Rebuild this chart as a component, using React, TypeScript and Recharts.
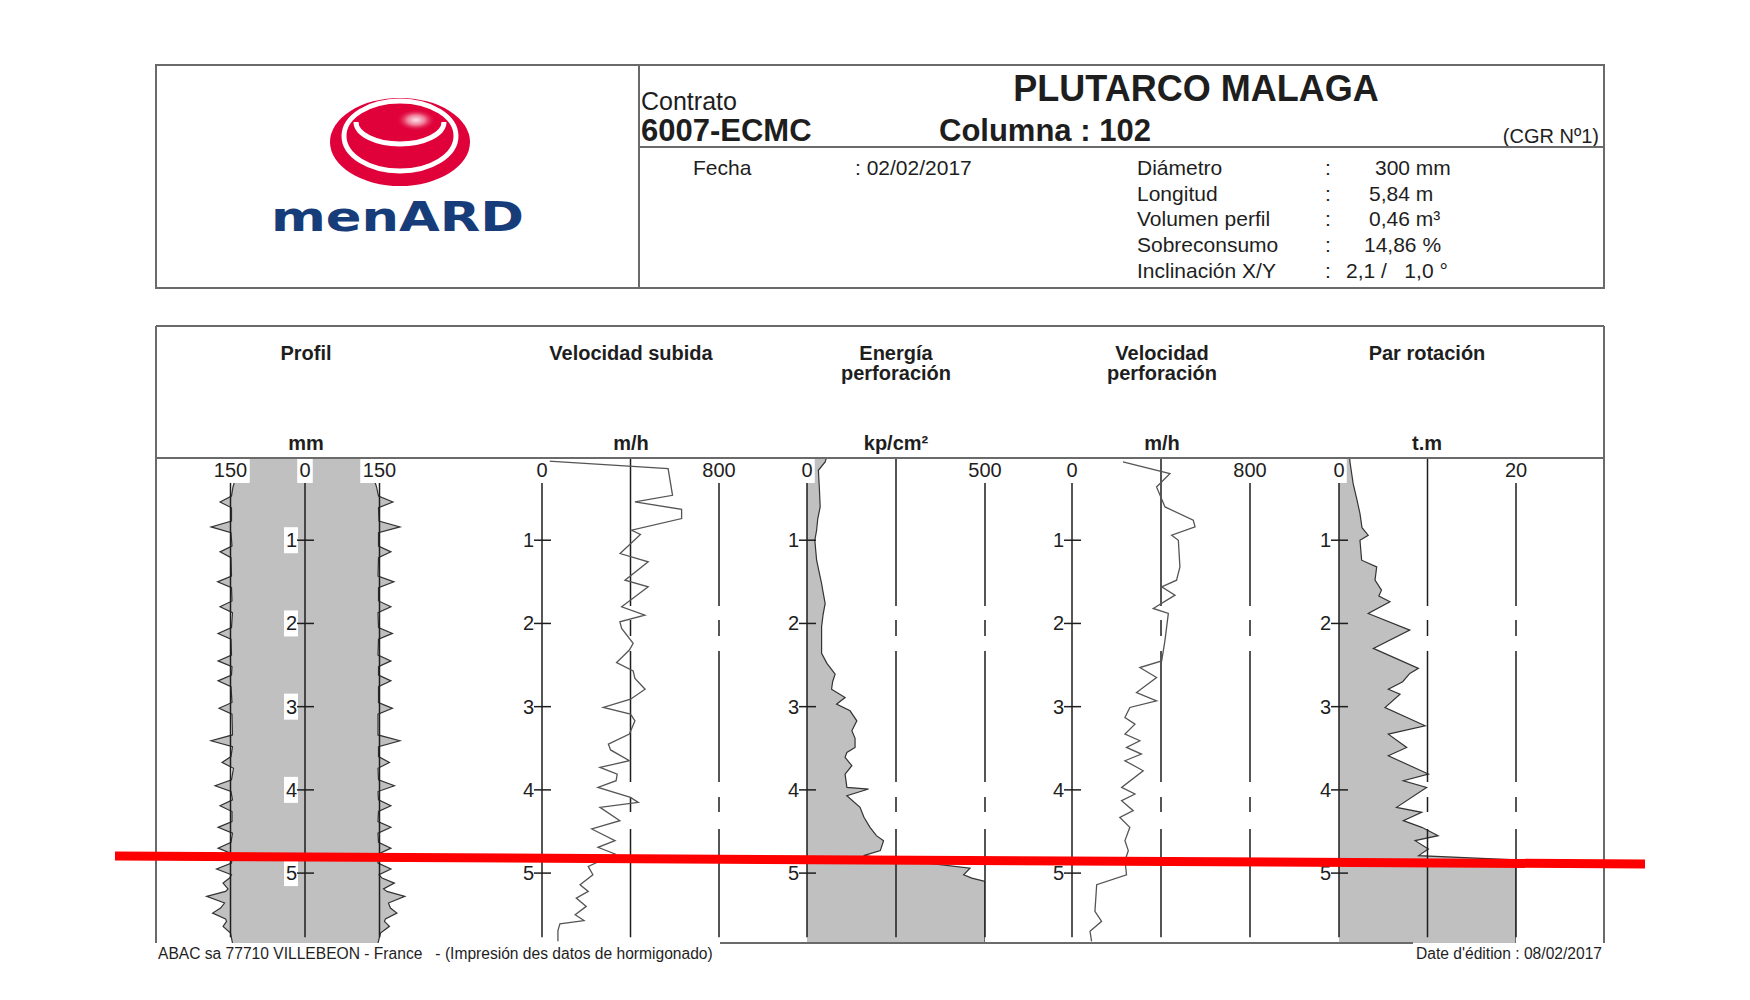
import React from "react";
import { ComposedChart, Area, Line, XAxis, YAxis, ReferenceLine } from "recharts";

const FONT = "'Liberation Sans', Arial, Helvetica, sans-serif";

// depth (m) shared by every track
const depthTicks = [1, 2, 3, 4, 5];
const DEPTH_MAX = 5.84;

// Profil: radius (mm) left / right
const profDepth = [0, 0.2, 0.36, 0.47, 0.54, 0.61, 0.77, 0.84, 0.91, 1.07, 1.14, 1.21, 1.43, 1.5, 1.57, 1.73, 1.8, 1.87, 2.05, 2.12, 2.19, 2.38, 2.45, 2.52, 2.62, 2.69, 2.76, 2.95, 3.02, 3.09, 3.34, 3.41, 3.48, 3.6, 3.67, 3.74, 3.88, 3.95, 4.02, 4.12, 4.19, 4.26, 4.38, 4.45, 4.52, 4.63, 4.7, 4.77, 4.88, 4.95, 5.02, 5.06, 5.12, 5.19, 5.22, 5.28, 5.36, 5.42, 5.48, 5.55, 5.58, 5.64, 5.72, 5.84];
const profLeft = [135, 137, 145, 148, 171, 148, 148, 189, 149, 147, 171, 149, 148, 176, 148, 147, 171, 146, 148, 175, 149, 148, 175, 147, 148, 175, 149, 147, 173, 147, 146, 189, 146, 149, 167, 144, 148, 181, 149, 146, 171, 147, 147, 175, 146, 149, 175, 146, 148, 178, 148, 152, 165, 155, 160, 198, 162, 170, 186, 160, 158, 165, 150, 146];
const profRight = [133, 136, 144, 148, 177, 148, 149, 191, 148, 148, 173, 148, 147, 179, 148, 148, 173, 147, 148, 176, 148, 147, 173, 148, 148, 173, 148, 148, 176, 147, 147, 191, 148, 148, 170, 147, 148, 180, 147, 148, 173, 148, 147, 173, 147, 148, 173, 148, 147, 173, 149, 155, 180, 158, 165, 201, 168, 172, 185, 162, 160, 170, 152, 147];

// Velocidad subida (m/h)
const subDepth = [0.05, 0.14, 0.46, 0.54, 0.63, 0.74, 0.88, 0.93, 1.16, 1.26, 1.48, 1.56, 1.8, 1.9, 1.98, 2.06, 2.24, 2.32, 2.47, 2.57, 2.66, 2.79, 2.91, 3.01, 3.09, 3.17, 3.33, 3.45, 3.52, 3.65, 3.73, 3.81, 3.89, 3.97, 4.09, 4.15, 4.21, 4.37, 4.47, 4.61, 4.69, 4.77, 4.92, 5.02, 5.14, 5.22, 5.3, 5.4, 5.5, 5.57, 5.61, 5.69, 5.82];
const subVel = [30, 570, 590, 420, 631, 631, 405, 445, 353, 480, 375, 480, 360, 465, 352, 360, 412, 395, 337, 412, 420, 466, 400, 277, 400, 420, 395, 300, 310, 395, 262, 340, 335, 253, 400, 435, 262, 352, 225, 330, 253, 330, 209, 230, 172, 209, 155, 200, 150, 190, 81, 72, 72];

// Energia perforacion (kp/cm2)
const enDepth = [0, 0.06, 0.16, 0.4, 0.6, 0.75, 0.88, 1.0, 1.24, 1.4, 1.52, 1.62, 1.76, 1.9, 2.04, 2.36, 2.48, 2.61, 2.7, 2.79, 2.89, 2.97, 3.05, 3.17, 3.29, 3.38, 3.49, 3.55, 3.61, 3.71, 3.81, 3.97, 3.99, 4.07, 4.21, 4.33, 4.45, 4.55, 4.61, 4.73, 4.79, 4.94, 5.02, 5.06, 5.1, 5.84];
const enPres = [55, 51, 32, 35, 37, 30, 27, 22, 27, 35, 41, 45, 51, 45, 41, 41, 56, 79, 72, 69, 107, 83, 121, 140, 126, 135, 135, 112, 107, 126, 107, 112, 173, 112, 149, 160, 177, 195, 215, 206, 159, 458, 440, 463, 500, 500];

// Velocidad perforacion (m/h)
const perfDepth = [0.06, 0.2, 0.36, 0.6, 0.76, 0.84, 0.94, 1.0, 1.32, 1.48, 1.56, 1.66, 1.82, 1.88, 2.2, 2.45, 2.53, 2.65, 2.83, 2.93, 3.01, 3.13, 3.21, 3.33, 3.41, 3.49, 3.57, 3.65, 3.77, 3.97, 4.05, 4.13, 4.25, 4.33, 4.45, 4.61, 4.73, 4.85, 5.02, 5.14, 5.46, 5.58, 5.7, 5.82];
const perfVel = [229, 440, 380, 418, 545, 553, 448, 478, 485, 470, 403, 463, 365, 433, 418, 403, 305, 380, 290, 380, 260, 238, 283, 238, 305, 245, 312, 238, 320, 223, 283, 223, 275, 215, 260, 238, 253, 238, 245, 111, 103, 133, 81, 88];

// Par rotacion (t.m)
const parDepth = [0, 0.06, 0.32, 0.5, 0.68, 0.85, 0.94, 1.0, 1.24, 1.32, 1.48, 1.6, 1.67, 1.74, 1.88, 2.08, 2.3, 2.54, 2.6, 2.7, 2.79, 2.85, 3.01, 3.23, 3.33, 3.49, 3.59, 3.81, 3.89, 3.97, 4.21, 4.27, 4.37, 4.45, 4.55, 4.61, 4.71, 4.79, 4.84, 5.84];
const parTorque = [1.2, 1.24, 1.6, 2.0, 2.37, 2.6, 3.3, 2.37, 2.56, 4.26, 4.07, 4.8, 4.5, 5.76, 3.3, 8.0, 3.88, 8.97, 8.0, 7.2, 5.57, 6.9, 5.2, 9.73, 5.57, 7.65, 5.57, 10.1, 7.27, 9.9, 6.5, 9.35, 7.27, 9.35, 11.2, 8.6, 10.1, 9.0, 20, 20];

const infoRows = [
  { label: "Diámetro", value: "300 mm", vx: 1375 },
  { label: "Longitud", value: "5,84 m", vx: 1369 },
  { label: "Volumen perfil", value: "0,46 m³", vx: 1369 },
  { label: "Sobreconsumo", value: "14,86 %", vx: 1364 },
  { label: "Inclinación X/Y", value: "2,1 /   1,0 °", vx: 1346 },
];

const profData = profDepth.map((d, i) => ({ d, l: -profLeft[i], r: profRight[i] }));
const subData = subDepth.map((d, i) => ({ d, v: subVel[i] }));
const enData = enDepth.map((d, i) => ({ d, v: enPres[i] }));
const perfData = perfDepth.map((d, i) => ({ d, v: perfVel[i] }));
const parData = parDepth.map((d, i) => ({ d, v: parTorque[i] }));

const TOP = 457;
const PLOT_H = 486;
const LINE_END = 5.77;
const DASH = "149 14 16 15 131 15 15 17 400";
const GREY = "#c0c0c0";
const INK = "#1e1e1e";

function ValueTick(props: any) {
  const { x, y, payload } = props;
  const label = String(Math.abs(payload.value));
  const w = label.length * 11.5 + 4;
  return (
    <g>
      <rect x={x - w / 2} y={y + 1} width={w} height={25} fill="#fff" />
      <text x={x} y={y + 20} textAnchor="middle" fontSize={20} fontFamily={FONT} fill={INK}>
        {label}
      </text>
    </g>
  );
}

const depthTick = (shift: number) => (props: any) => {
  const { x, y, payload } = props;
  const ax = x + shift;
  return (
    <g>
      <rect x={ax - 21} y={y - 13} width={14} height={26} fill="#fff" />
      <line x1={ax - 8} x2={ax + 9} y1={y} y2={y} stroke={INK} strokeWidth={1.5} />
      <text x={ax - 8} y={y + 7} textAnchor="end" fontSize={20} fontFamily={FONT} fill={INK}>
        {payload.value}
      </text>
    </g>
  );
};

// axes are 1px thick; the chart is shifted by that pixel so the plot lands on TOP / plotLeft
function frame(domain: [number, number], ticks: number[], shift: number, solid: number[], dashed: number[]) {
  return [
    ...solid.map((v) => (
      <ReferenceLine key={"s" + v} segment={[{ x: v, y: 0 }, { x: v, y: LINE_END }]} stroke={INK} strokeWidth={1.5} />
    )),
    ...dashed.map((v) => (
      <ReferenceLine
        key={"g" + v}
        segment={[{ x: v, y: 0 }, { x: v, y: LINE_END }]}
        stroke={INK}
        strokeWidth={1.5}
        strokeDasharray={DASH}
      />
    )),
    <XAxis
      key="x"
      type="number"
      orientation="top"
      domain={domain}
      ticks={ticks}
      interval={0}
      height={1}
      tickSize={0}
      tickMargin={0}
      axisLine={false}
      tickLine={false}
      allowDataOverflow
      tick={ValueTick}
    />,
    <YAxis
      key="y"
      type="number"
      dataKey="d"
      domain={[0, DEPTH_MAX]}
      ticks={depthTicks}
      interval={0}
      width={1}
      tickSize={0}
      tickMargin={0}
      axisLine={false}
      tickLine={false}
      allowDataOverflow
      tick={depthTick(shift)}
    />,
  ];
}

function place(plotLeft: number, padL: number) {
  return { position: "absolute" as const, left: plotLeft - padL, top: TOP - 1, zIndex: 1 };
}

export default function App() {
  const tx = { fontFamily: FONT, fill: INK };
  return (
    <div style={{ position: "absolute", left: 0, top: 0, width: 1750, height: 1000, background: "#fff" }}>
      {/* header / titles */}
      <svg width={1750} height={1000} style={{ position: "absolute", left: 0, top: 0, zIndex: 0 }}>
        <defs>
          <radialGradient id="hl" cx="0.5" cy="0.5" r="0.5">
            <stop offset="0" stopColor="#fde3ea" />
            <stop offset="0.45" stopColor="#f07c98" />
            <stop offset="1" stopColor="#e0003a" stopOpacity={0} />
          </radialGradient>
        </defs>
        <ellipse cx={400} cy={142} rx={70} ry={44} fill="#e0003a" />
        <ellipse cx={400} cy={136} rx={56} ry={35} fill="none" stroke="#fff" strokeWidth={5} />
        <path d="M 356 122 A 44 22 0 0 0 444 122" fill="none" stroke="#fff" strokeWidth={5} />
        <ellipse cx={416} cy={120} rx={20} ry={11} fill="url(#hl)" />
        <text x={271} y={231} textLength={253} lengthAdjust="spacingAndGlyphs" fontSize={40} fontWeight={700} fontFamily="'DejaVu Sans', sans-serif" fill="#163d7a">
          menARD
        </text>

        <text x={641} y={110} fontSize={25} {...tx}>Contrato</text>
        <text x={641} y={141} fontSize={31} fontWeight={700} {...tx}>6007-ECMC</text>
        <text x={1196} y={101} fontSize={36} fontWeight={700} textAnchor="middle" {...tx}>PLUTARCO MALAGA</text>
        <text x={939} y={141} fontSize={31} fontWeight={700} {...tx}>Columna : 102</text>
        <text x={1599} y={143} fontSize={20} textAnchor="end" {...tx}>(CGR Nº1)</text>
        <text x={693} y={175} fontSize={21} {...tx}>Fecha</text>
        <text x={855} y={175} fontSize={21} {...tx}>: 02/02/2017</text>
        {infoRows.map((r, i) => (
          <g key={r.label}>
            <text x={1137} y={175 + i * 25.7} fontSize={21} {...tx}>{r.label}</text>
            <text x={1325} y={175 + i * 25.7} fontSize={21} {...tx}>:</text>
            <text x={r.vx} y={175 + i * 25.7} fontSize={21} {...tx} style={{ whiteSpace: "pre" }}>{r.value}</text>
          </g>
        ))}

        <g fontFamily={FONT} fontWeight={700} fontSize={20} textAnchor="middle" fill={INK}>
          <text x={306} y={360}>Profil</text>
          <text x={631} y={360}>Velocidad subida</text>
          <text x={896} y={360}>Energía</text>
          <text x={896} y={380}>perforación</text>
          <text x={1162} y={360}>Velocidad</text>
          <text x={1162} y={380}>perforación</text>
          <text x={1427} y={360}>Par rotación</text>
          <text x={306} y={450}>mm</text>
          <text x={631} y={450}>m/h</text>
          <text x={896} y={450}>kp/cm²</text>
          <text x={1162} y={450}>m/h</text>
          <text x={1427} y={450}>t.m</text>
        </g>
        <text x={158} y={959} fontSize={15.6} {...tx} style={{ whiteSpace: "pre" }}>
          {"ABAC sa 77710 VILLEBEON - France   - (Impresión des datos de hormigonado)"}
        </text>
        <text x={1602} y={959} fontSize={15.6} textAnchor="end" {...tx}>Date d'édition : 08/02/2017</text>
      </svg>

      {/* Profil */}
      <div style={place(156, 1)}>
        <ComposedChart layout="vertical" width={299} height={PLOT_H + 1} data={profData} margin={{ top: 0, right: 0, bottom: 0, left: 0 }}>
          <Area type="linear" dataKey="l" stroke="#333" strokeWidth={1.2} fill={GREY} fillOpacity={1} isAnimationActive={false} dot={false} activeDot={false} />
          <Area type="linear" dataKey="r" stroke="#333" strokeWidth={1.2} fill={GREY} fillOpacity={1} isAnimationActive={false} dot={false} activeDot={false} />
          {frame([-300, 300], [-150, 0, 150], 149, [-150, 0, 150], [])}
        </ComposedChart>
      </div>

      {/* Velocidad subida */}
      <div style={place(542, 40)}>
        <ComposedChart layout="vertical" width={40 + 177 + 30} height={PLOT_H + 1} data={subData} margin={{ top: 0, right: 30, bottom: 0, left: 39 }}>
          {frame([0, 800], [0, 800], 0, [0], [400, 800])}
          <Line type="linear" dataKey="v" stroke="#555" strokeWidth={1.3} dot={false} activeDot={false} isAnimationActive={false} />
        </ComposedChart>
      </div>

      {/* Energia perforacion */}
      <div style={place(807, 40)}>
        <ComposedChart layout="vertical" width={40 + 178 + 30} height={PLOT_H + 1} data={enData} margin={{ top: 0, right: 30, bottom: 0, left: 39 }}>
          <Area type="linear" dataKey="v" stroke="#333" strokeWidth={1.2} fill={GREY} fillOpacity={1} isAnimationActive={false} dot={false} activeDot={false} />
          {frame([0, 500], [0, 500], 0, [0], [250, 500])}
        </ComposedChart>
      </div>

      {/* Velocidad perforacion */}
      <div style={place(1072, 40)}>
        <ComposedChart layout="vertical" width={40 + 178 + 30} height={PLOT_H + 1} data={perfData} margin={{ top: 0, right: 30, bottom: 0, left: 39 }}>
          {frame([0, 800], [0, 800], 0, [0], [400, 800])}
          <Line type="linear" dataKey="v" stroke="#555" strokeWidth={1.3} dot={false} activeDot={false} isAnimationActive={false} />
        </ComposedChart>
      </div>

      {/* Par rotacion */}
      <div style={place(1339, 40)}>
        <ComposedChart layout="vertical" width={40 + 177 + 30} height={PLOT_H + 1} data={parData} margin={{ top: 0, right: 30, bottom: 0, left: 39 }}>
          <Area type="linear" dataKey="v" stroke="#333" strokeWidth={1.2} fill={GREY} fillOpacity={1} isAnimationActive={false} dot={false} activeDot={false} />
          {frame([0, 20], [0, 20], 0, [0], [10, 20])}
        </ComposedChart>
      </div>

      {/* frames and annotation */}
      <svg width={1750} height={1000} style={{ position: "absolute", left: 0, top: 0, zIndex: 2, pointerEvents: "none" }}>
        <g stroke="#6a6a6a" strokeWidth={2} fill="none">
          <rect x={156} y={65} width={1448} height={223} />
          <line x1={639} x2={639} y1={65} y2={288} />
          <line x1={639} x2={1604} y1={147} y2={147} />
          <line x1={156} x2={1604} y1={326} y2={326} />
          <line x1={156} x2={1604} y1={458} y2={458} />
          <line x1={156} x2={156} y1={326} y2={943} />
          <line x1={1604} x2={1604} y1={326} y2={943} />
          <line x1={720} x2={1413} y1={943} y2={943} />
        </g>
        <line x1={115} y1={856} x2={1645} y2={864} stroke="#ff0000" strokeWidth={9} />
      </svg>
    </div>
  );
}
